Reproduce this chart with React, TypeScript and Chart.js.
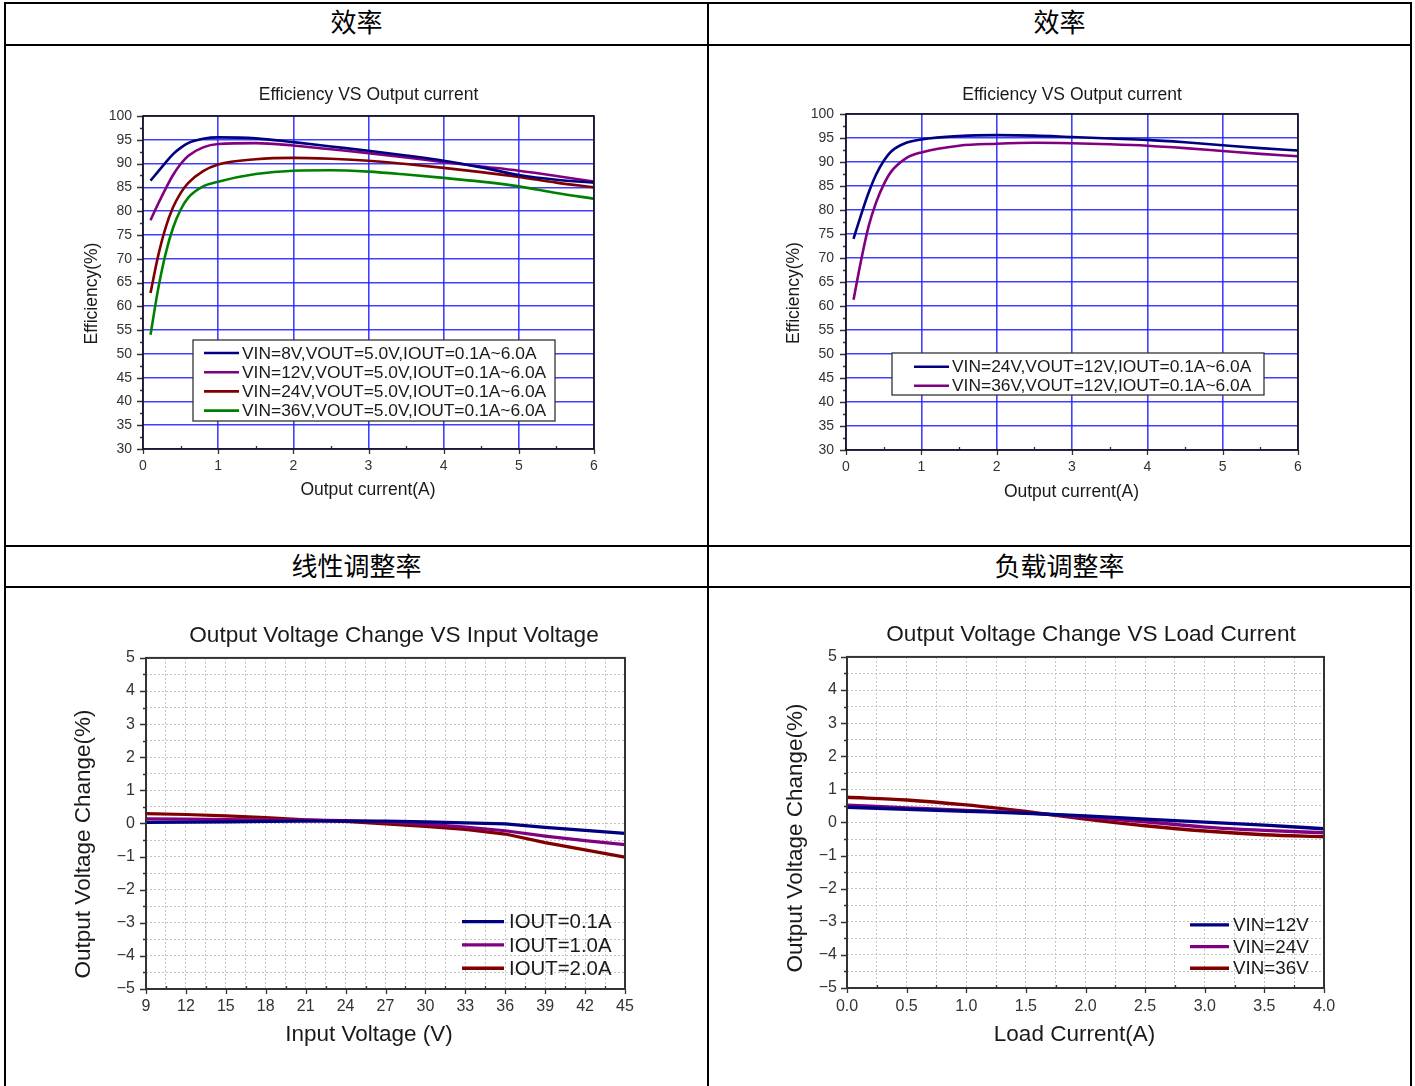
import React, { useEffect, useRef } from "react";
import { Chart, registerables } from "chart.js";

Chart.register(...registerables);

const FONT = '"Liberation Sans", Arial, Helvetica, sans-serif';
const CJK = '"Noto Sans CJK SC", "Noto Sans CJK TC", sans-serif';
Chart.defaults.font.family = FONT;
Chart.defaults.color = "#222";

// ---------------- DATA ----------------
// Efficiency, VOUT = 5.0V
const eff5Current = [0.1, 0.2, 0.3, 0.4, 0.5, 0.6, 0.8, 1.0, 1.5, 2.0, 2.5, 3.0, 3.5, 4.0, 4.5, 5.0, 5.5, 6.0];
const eff5Vin8 = [86.4, 88.3, 90.2, 92.0, 93.3, 94.3, 95.2, 95.5, 95.3, 94.5, 93.6, 92.7, 91.7, 90.6, 89.2, 87.6, 86.6, 86.0];
const eff5Vin12 = [78.1, 81.5, 84.7, 87.6, 89.9, 91.6, 93.4, 94.1, 94.3, 93.8, 93.0, 92.2, 91.3, 90.3, 89.4, 88.5, 87.4, 86.2];
const eff5Vin24 = [62.8, 70.5, 76.5, 80.8, 83.8, 85.9, 88.4, 89.8, 90.9, 91.2, 91.0, 90.6, 89.9, 89.1, 88.2, 87.2, 86.0, 85.0];
const eff5Vin36 = [54.0, 63.5, 71.0, 76.5, 80.3, 82.8, 85.2, 86.2, 87.8, 88.5, 88.6, 88.3, 87.7, 87.0, 86.2, 85.2, 83.8, 82.6];
const eff5Labels = [
  "VIN=8V,VOUT=5.0V,IOUT=0.1A~6.0A",
  "VIN=12V,VOUT=5.0V,IOUT=0.1A~6.0A",
  "VIN=24V,VOUT=5.0V,IOUT=0.1A~6.0A",
  "VIN=36V,VOUT=5.0V,IOUT=0.1A~6.0A",
];

// Efficiency, VOUT = 12V
const eff12Current = [0.1, 0.2, 0.3, 0.4, 0.5, 0.6, 0.8, 1.0, 1.5, 2.0, 2.5, 3.0, 3.5, 4.0, 4.5, 5.0, 5.5, 6.0];
const eff12Vin24 = [74.0, 79.0, 83.6, 87.4, 90.2, 92.2, 94.0, 94.7, 95.4, 95.6, 95.5, 95.2, 94.9, 94.6, 94.1, 93.5, 92.9, 92.4];
const eff12Vin36 = [61.3, 69.5, 76.6, 81.6, 85.3, 88.0, 90.8, 92.0, 93.4, 93.8, 94.0, 93.9, 93.7, 93.4, 92.9, 92.3, 91.7, 91.2];
const eff12Labels = ["VIN=24V,VOUT=12V,IOUT=0.1A~6.0A", "VIN=36V,VOUT=12V,IOUT=0.1A~6.0A"];

// Line regulation
const lineVin = [9, 12, 15, 18, 21, 24, 27, 30, 33, 36, 39, 42, 45];
const lineIout01 = [0.03, 0.04, 0.05, 0.06, 0.07, 0.07, 0.07, 0.05, 0.02, -0.01, -0.12, -0.21, -0.3];
const lineIout10 = [0.14, 0.13, 0.12, 0.11, 0.1, 0.09, 0.05, -0.02, -0.11, -0.22, -0.38, -0.52, -0.64];
const lineIout20 = [0.3, 0.27, 0.23, 0.18, 0.11, 0.06, -0.01, -0.09, -0.18, -0.32, -0.58, -0.8, -1.02];
const lineLabels = ["IOUT=0.1A", "IOUT=1.0A", "IOUT=2.0A"];

// Load regulation
const loadCurrent = [0, 0.5, 1.0, 1.5, 2.0, 2.5, 3.0, 3.5, 4.0];
const loadVin12 = [0.46, 0.4, 0.34, 0.28, 0.2, 0.1, 0.01, -0.08, -0.19];
const loadVin24 = [0.52, 0.44, 0.36, 0.29, 0.16, 0.02, -0.14, -0.24, -0.31];
const loadVin36 = [0.76, 0.68, 0.53, 0.33, 0.1, -0.1, -0.26, -0.37, -0.43];
const loadLabels = ["VIN=12V", "VIN=24V", "VIN=36V"];

// Tick labels
const effXTicks = [0, 1, 2, 3, 4, 5, 6];
const effYTicks = [30, 35, 40, 45, 50, 55, 60, 65, 70, 75, 80, 85, 90, 95, 100];
const lineXTicks = [9, 12, 15, 18, 21, 24, 27, 30, 33, 36, 39, 42, 45];
const changeYTicks = [-5, -4, -3, -2, -1, 0, 1, 2, 3, 4, 5];
const loadXTicks = [0, 0.5, 1.0, 1.5, 2.0, 2.5, 3.0, 3.5, 4.0];

const headers = ["效率", "效率", "线性调整率", "负载调整率"];

// ---------------- CONFIG ----------------
const NAVY = "#000080";
const PURPLE = "#800080";
const MAROON = "#800000";
const GREEN = "#008000";

type Series = { label: string; xs: number[]; ys: number[]; color: string };

type Spec = {
  series: Series[];
  title: string;
  xTitle: string;
  yTitle: string;
  xMin: number; xMax: number; xStep: number; xMajors: number[]; xMinor: number;
  yMin: number; yMax: number; yStep: number; yMajors: number[]; yMinor: number;
  xFmt: (v: number) => string;
  yFmt: (v: number) => string;
  padL: number; padR: number; yw: number; rw: number; xh: number;
  titleSize: number; titlePadTop: number; titlePadBottom: number;
  tickSize: number; yTickPad: number; xTickPad: number;
  axisTitleSize: number; xTitleDx: number; xTitleDy: number; yTitleDx: number; yTitleDy: number;
  gridColor: string; gridWidth: number; gridDash: number[];
  frameColor: string; frameWidth: number;
  lineWidth: number; tension: number; monotone: boolean;
  legend: {
    box: boolean; bx: number; by: number; bw: number; bh: number;
    y0: number; rowH: number; lx0: number; lx1: number; tx: number; size: number; lw: number;
  };
};

const isIn = (arr: number[], v: number) => arr.some((m) => Math.abs(m - v) < 1e-6);
const minusFmt = (v: number) => (v < 0 ? "\u2212" + Math.abs(v) : String(v));

function makeDecor(s: Spec) {
  return {
    id: "decor",
    afterDatasetsDraw(chart: any) {
      const ctx: CanvasRenderingContext2D = chart.ctx;
      const { left, right, top, bottom } = chart.chartArea;
      const xs = chart.scales.x;
      const ys = chart.scales.y;
      ctx.save();
      // tick marks
      ctx.strokeStyle = "#333";
      ctx.lineWidth = 1.3;
      ctx.beginPath();
      const nx = Math.round((s.xMax - s.xMin) / s.xMinor);
      for (let k = 0; k <= nx; k++) {
        const v = s.xMin + k * s.xMinor;
        const px = Math.round(xs.getPixelForValue(v)) + 0.5;
        if (isIn(s.xMajors, v)) {
          ctx.moveTo(px, bottom);
          ctx.lineTo(px, bottom + 5);
        } else {
          ctx.moveTo(px, bottom);
          ctx.lineTo(px, bottom - 3);
        }
      }
      const ny = Math.round((s.yMax - s.yMin) / s.yMinor);
      for (let k = 0; k <= ny; k++) {
        const v = s.yMin + k * s.yMinor;
        const py = Math.round(ys.getPixelForValue(v)) + 0.5;
        const len = isIn(s.yMajors, v) ? 6 : 3;
        ctx.moveTo(left - len, py);
        ctx.lineTo(left, py);
      }
      ctx.stroke();
      // frame
      ctx.strokeStyle = s.frameColor;
      ctx.lineWidth = s.frameWidth;
      ctx.strokeRect(left, top, right - left, bottom - top);
      // axis titles
      ctx.fillStyle = "#1a1a1a";
      ctx.font = `${s.axisTitleSize}px ${FONT}`;
      ctx.textAlign = "center";
      ctx.textBaseline = "middle";
      ctx.fillText(s.xTitle, (left + right) / 2 + s.xTitleDx, bottom + s.xTitleDy);
      ctx.save();
      ctx.translate(left + s.yTitleDx, (top + bottom) / 2 + s.yTitleDy);
      ctx.rotate(-Math.PI / 2);
      ctx.fillText(s.yTitle, 0, 0);
      ctx.restore();
      // legend
      const L = s.legend;
      if (L.box) {
        ctx.fillStyle = "#fff";
        ctx.fillRect(left + L.bx, top + L.by, L.bw, L.bh);
        ctx.strokeStyle = "#333";
        ctx.lineWidth = 1.3;
        ctx.strokeRect(left + L.bx, top + L.by, L.bw, L.bh);
      }
      ctx.font = `${L.size}px ${FONT}`;
      ctx.textAlign = "left";
      ctx.textBaseline = "middle";
      chart.data.datasets.forEach((ds: any, i: number) => {
        const y = top + L.y0 + i * L.rowH;
        ctx.strokeStyle = ds.borderColor;
        ctx.lineWidth = L.lw;
        ctx.beginPath();
        ctx.moveTo(left + L.lx0, y);
        ctx.lineTo(left + L.lx1, y);
        ctx.stroke();
        ctx.fillStyle = "#1a1a1a";
        ctx.fillText(ds.label, left + L.tx, y + 1);
      });
      ctx.restore();
    },
  };
}

function buildConfig(s: Spec): any {
  return {
    type: "line",
    data: {
      datasets: s.series.map((se) => ({
        label: se.label,
        data: se.xs.map((x, i) => ({ x, y: se.ys[i] })),
        borderColor: se.color,
        backgroundColor: se.color,
        borderWidth: s.lineWidth,
        pointRadius: 0,
        fill: false,
        tension: s.tension,
        cubicInterpolationMode: s.monotone ? "monotone" : "default",
      })),
    },
    options: {
      responsive: false,
      animation: false,
      devicePixelRatio: 1,
      events: [],
      layout: { padding: { left: s.padL, right: s.padR, top: 0, bottom: 0 } },
      plugins: {
        legend: { display: false },
        tooltip: { enabled: false },
        title: {
          display: true,
          text: s.title,
          color: "#1a1a1a",
          font: { size: s.titleSize, family: FONT, weight: "normal" },
          padding: { top: s.titlePadTop, bottom: s.titlePadBottom },
        },
      },
      scales: {
        x: {
          type: "linear",
          min: s.xMin,
          max: s.xMax,
          afterFit: (sc: any) => {
            sc.height = s.xh;
          },
          grid: { color: s.gridColor, lineWidth: s.gridWidth, drawTicks: false },
          border: { display: false, dash: s.gridDash },
          ticks: {
            stepSize: s.xStep,
            maxTicksLimit: 200,
            autoSkip: false,
            maxRotation: 0,
            minRotation: 0,
            padding: s.xTickPad,
            color: "#333",
            font: { size: s.tickSize, family: FONT },
            callback: (v: any) => (isIn(s.xMajors, Number(v)) ? s.xFmt(Number(v)) : ""),
          },
        },
        y: {
          type: "linear",
          position: "left",
          min: s.yMin,
          max: s.yMax,
          afterFit: (sc: any) => {
            sc.width = s.yw;
          },
          grid: { color: s.gridColor, lineWidth: s.gridWidth, drawTicks: false },
          border: { display: false, dash: s.gridDash },
          ticks: {
            stepSize: s.yStep,
            maxTicksLimit: 200,
            autoSkip: false,
            padding: s.yTickPad,
            color: "#333",
            font: { size: s.tickSize, family: FONT },
            callback: (v: any) => (isIn(s.yMajors, Number(v)) ? s.yFmt(Number(v)) : ""),
          },
        },
        y2: {
          type: "linear",
          position: "right",
          display: true,
          min: s.yMin,
          max: s.yMax,
          afterFit: (sc: any) => {
            sc.width = s.rw;
          },
          grid: { display: false, drawTicks: false },
          border: { display: false },
          ticks: { display: false },
        },
      },
    },
    plugins: [makeDecor(s)],
  };
}

const BLUE_GRID = "rgba(30,30,255,0.85)";
const DOT_GRID = "#c4c4c4";

const spec1: Spec = {
  series: [
    { label: eff5Labels[0], xs: eff5Current, ys: eff5Vin8, color: NAVY },
    { label: eff5Labels[1], xs: eff5Current, ys: eff5Vin12, color: PURPLE },
    { label: eff5Labels[2], xs: eff5Current, ys: eff5Vin24, color: MAROON },
    { label: eff5Labels[3], xs: eff5Current, ys: eff5Vin36, color: GREEN },
  ],
  title: "Efficiency VS Output current",
  xTitle: "Output current(A)",
  yTitle: "Efficiency(%)",
  xMin: 0, xMax: 6, xStep: 1, xMajors: effXTicks, xMinor: 0.5,
  yMin: 30, yMax: 100, yStep: 5, yMajors: effYTicks, yMinor: 2.5,
  xFmt: (v) => String(v),
  yFmt: (v) => String(v),
  padL: 77, padR: 53, yw: 60, rw: 60, xh: 96,
  titleSize: 17.5, titlePadTop: 39, titlePadBottom: 10,
  tickSize: 14, yTickPad: 11, xTickPad: 8.4,
  axisTitleSize: 17.5, xTitleDx: -0.5, xTitleDy: 41, yTitleDx: -51, yTitleDy: 11,
  gridColor: BLUE_GRID, gridWidth: 1.6, gridDash: [],
  frameColor: "#111", frameWidth: 1.6,
  lineWidth: 2.6, tension: 0.4, monotone: true,
  legend: { box: true, bx: 50, by: 224, bw: 362, bh: 81, y0: 237, rowH: 19.2, lx0: 61, lx1: 96, tx: 99, size: 17.4, lw: 2.6 },
};

const spec2: Spec = {
  series: [
    { label: eff12Labels[0], xs: eff12Current, ys: eff12Vin24, color: NAVY },
    { label: eff12Labels[1], xs: eff12Current, ys: eff12Vin36, color: PURPLE },
  ],
  title: "Efficiency VS Output current",
  xTitle: "Output current(A)",
  yTitle: "Efficiency(%)",
  xMin: 0, xMax: 6, xStep: 1, xMajors: effXTicks, xMinor: 0.5,
  yMin: 30, yMax: 100, yStep: 5, yMajors: effYTicks, yMinor: 2.5,
  xFmt: (v) => String(v),
  yFmt: (v) => String(v),
  padL: 77, padR: 52, yw: 60, rw: 60, xh: 95,
  titleSize: 17.5, titlePadTop: 38.5, titlePadBottom: 8.5,
  tickSize: 14, yTickPad: 12, xTickPad: 8.4,
  axisTitleSize: 17.5, xTitleDx: -0.5, xTitleDy: 42, yTitleDx: -52, yTitleDy: 11,
  gridColor: BLUE_GRID, gridWidth: 1.6, gridDash: [],
  frameColor: "#111", frameWidth: 1.6,
  lineWidth: 2.6, tension: 0.4, monotone: true,
  legend: { box: true, bx: 46, by: 239, bw: 372, bh: 42, y0: 252.7, rowH: 19, lx0: 68, lx1: 103, tx: 106, size: 17.4, lw: 2.6 },
};

const spec3: Spec = {
  series: [
    { label: lineLabels[0], xs: lineVin, ys: lineIout01, color: NAVY },
    { label: lineLabels[1], xs: lineVin, ys: lineIout10, color: PURPLE },
    { label: lineLabels[2], xs: lineVin, ys: lineIout20, color: MAROON },
  ],
  title: "Output Voltage Change VS Input Voltage",
  xTitle: "Input Voltage (V)",
  yTitle: "Output Voltage Change(%)",
  xMin: 9, xMax: 45, xStep: 1.5, xMajors: lineXTicks, xMinor: 1.5,
  yMin: -5, yMax: 5, yStep: 0.5, yMajors: changeYTicks, yMinor: 0.5,
  xFmt: (v) => String(v),
  yFmt: minusFmt,
  padL: 80, padR: 5, yw: 60, rw: 77, xh: 97,
  titleSize: 22.6, titlePadTop: 34.4, titlePadBottom: 8.4,
  tickSize: 16, yTickPad: 11, xTickPad: 8.4,
  axisTitleSize: 22.5, xTitleDx: -16.5, xTitleDy: 46, yTitleDx: -62, yTitleDy: 20.5,
  gridColor: DOT_GRID, gridWidth: 1, gridDash: [2, 2],
  frameColor: "#333", frameWidth: 2,
  lineWidth: 3.2, tension: 0, monotone: false,
  legend: { box: false, bx: 0, by: 0, bw: 0, bh: 0, y0: 263.7, rowH: 23.3, lx0: 316, lx1: 358, tx: 363, size: 20.4, lw: 3.4 },
};

const spec4: Spec = {
  series: [
    { label: loadLabels[0], xs: loadCurrent, ys: loadVin12, color: NAVY },
    { label: loadLabels[1], xs: loadCurrent, ys: loadVin24, color: PURPLE },
    { label: loadLabels[2], xs: loadCurrent, ys: loadVin36, color: MAROON },
  ],
  title: "Output Voltage Change VS Load Current",
  xTitle: "Load Current(A)",
  yTitle: "Output Voltage Change(%)",
  xMin: 0, xMax: 4, xStep: 0.25, xMajors: loadXTicks, xMinor: 0.25,
  yMin: -5, yMax: 5, yStep: 0.5, yMajors: changeYTicks, yMinor: 0.5,
  xFmt: (v) => v.toFixed(1),
  yFmt: minusFmt,
  padL: 78, padR: 15, yw: 60, rw: 71, xh: 98,
  titleSize: 22.6, titlePadTop: 33.4, titlePadBottom: 8.4,
  tickSize: 16, yTickPad: 10, xTickPad: 9.4,
  axisTitleSize: 22.5, xTitleDx: -11, xTitleDy: 47, yTitleDx: -51, yTitleDy: 15.5,
  gridColor: DOT_GRID, gridWidth: 1, gridDash: [2, 2],
  frameColor: "#333", frameWidth: 2,
  lineWidth: 3.4, tension: 0.4, monotone: true,
  legend: { box: false, bx: 0, by: 0, bw: 0, bh: 0, y0: 268, rowH: 21.7, lx0: 343, lx1: 382, tx: 386, size: 18.8, lw: 3.4 },
};

function ChartBox({ spec, left, top, width, height }: { spec: Spec; left: number; top: number; width: number; height: number }) {
  const ref = useRef<HTMLCanvasElement>(null);
  useEffect(() => {
    if (!ref.current) return;
    const chart = new Chart(ref.current, buildConfig(spec));
    return () => chart.destroy();
  }, [spec]);
  return (
    <canvas
      ref={ref}
      width={width}
      height={height}
      style={{ position: "absolute", left, top, width, height, display: "block" }}
    />
  );
}

const line = (left: number, top: number, width: number, height: number, key: string) => (
  <div key={key} style={{ position: "absolute", left, top, width, height, background: "#000" }} />
);

const header = (text: string, left: number, top: number, width: number, height: number, key: string) => (
  <div
    key={key}
    style={{
      position: "absolute",
      left,
      top,
      width,
      height,
      display: "flex",
      alignItems: "center",
      justifyContent: "center",
      fontFamily: CJK,
      fontSize: 26,
      color: "#000",
      lineHeight: 1,
    }}
  >
    {text}
  </div>
);

export default function App() {
  return (
    <div
      style={{
        position: "fixed",
        left: 0,
        top: 0,
        width: 1415,
        height: 1086,
        overflow: "hidden",
        background: "#fff",
      }}
    >
      <ChartBox spec={spec1} left={6} top={46} width={701} height={499} />
      <ChartBox spec={spec2} left={709} top={46} width={701} height={499} />
      <ChartBox spec={spec3} left={6} top={588} width={701} height={498} />
      <ChartBox spec={spec4} left={709} top={588} width={701} height={498} />
      {header(headers[0], 6, 1, 701, 40, "h0")}
      {header(headers[1], 709, 1, 701, 40, "h1")}
      {header(headers[2], 6, 545, 701, 39, "h2")}
      {header(headers[3], 709, 545, 701, 39, "h3")}
      {line(4, 2, 1408, 2, "t")}
      {line(4, 2, 2, 1084, "l")}
      {line(1410, 2, 2, 1084, "r")}
      {line(707, 2, 2, 1084, "m")}
      {line(4, 44, 1408, 2, "a")}
      {line(4, 545, 1408, 2, "b")}
      {line(4, 586, 1408, 2, "c")}
    </div>
  );
}
